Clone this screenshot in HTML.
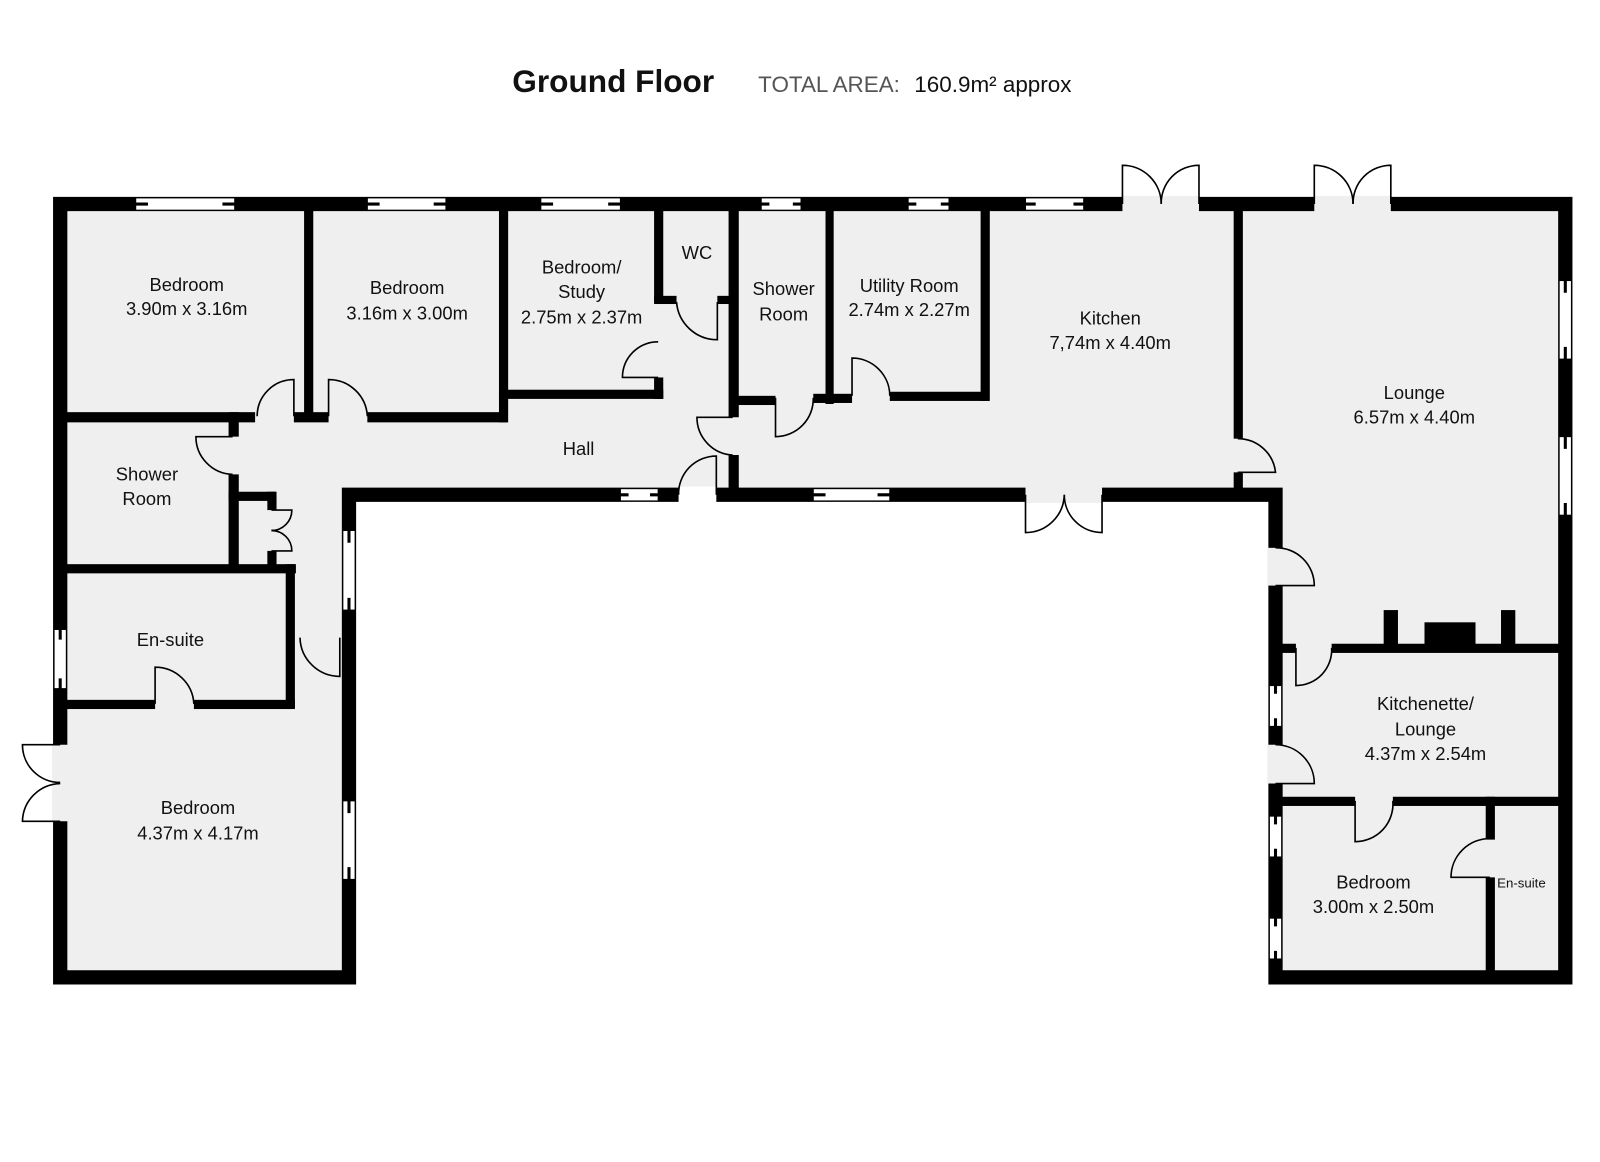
<!DOCTYPE html>
<html><head><meta charset="utf-8"><style>
html,body{margin:0;padding:0;background:#fff}
svg{display:block}
text{font-family:"Liberation Sans",sans-serif;fill:#111}
</style></head><body>
<svg width="1600" height="1162" viewBox="0 0 1568 1139" preserveAspectRatio="none" xmlns="http://www.w3.org/2000/svg">
<text x="502" y="90" style="font-size:31px;font-weight:bold">Ground Floor</text>
<text x="743" y="90" style="font-size:22px;fill:#555">TOTAL AREA:</text>
<text x="896" y="90" style="font-size:22px">160.9m² approx</text>

<polygon points="59,200 1534,200 1534,958 1250,958 1250,485 342,485 342,958 59,958" fill="#efefef" stroke="#000" stroke-width="14" stroke-linejoin="miter"/>

<g fill="#000">
<rect x="298" y="200" width="9" height="212"/>
<rect x="59" y="404" width="191" height="10"/>
<rect x="288" y="404" width="34" height="10"/>
<rect x="360" y="404" width="137" height="10"/>
<rect x="489" y="200" width="9" height="214"/>
<rect x="489" y="382" width="161" height="9"/>
<rect x="641" y="200" width="9" height="96"/>
<rect x="641" y="290" width="22" height="8"/>
<rect x="703" y="290" width="19" height="8"/>
<rect x="641" y="370" width="9" height="21"/>
<rect x="714" y="200" width="10" height="209"/>
<rect x="714" y="446" width="10" height="39"/>
<rect x="718" y="388" width="42" height="9"/>
<rect x="797" y="386" width="38" height="9"/>
<rect x="872" y="384" width="97" height="9"/>
<rect x="809" y="200" width="8" height="196"/>
<rect x="961" y="200" width="9" height="193"/>
<rect x="1209" y="200" width="9" height="230"/>
<rect x="1209" y="463" width="9" height="22"/>
<rect x="1250" y="631" width="20" height="9"/>
<rect x="1305" y="631" width="229" height="9"/>
<rect x="1356" y="598" width="14" height="37"/>
<rect x="1396" y="610" width="50" height="25"/>
<rect x="1471" y="598" width="14" height="37"/>
<rect x="1250" y="781" width="78" height="9"/>
<rect x="1365" y="781" width="169" height="9"/>
<rect x="1456" y="781" width="9" height="42"/>
<rect x="1456" y="860" width="9" height="98"/>
<rect x="224" y="404" width="10" height="24"/>
<rect x="224" y="465" width="10" height="95"/>
<rect x="224" y="482" width="46" height="9"/>
<rect x="262" y="482" width="9" height="18"/>
<rect x="262" y="540" width="9" height="20"/>
<rect x="59" y="553" width="231" height="9"/>
<rect x="280" y="553" width="9" height="141"/>
<rect x="59" y="686" width="93" height="9"/>
<rect x="190" y="686" width="99" height="9"/>
</g>

<!-- door gaps -->
<g fill="#efefef">
<rect x="1100" y="192" width="75" height="16"/>
<rect x="1288" y="192" width="75" height="16"/>
<rect x="665" y="477" width="37" height="16" fill="#fff"/>
<rect x="1005" y="477" width="75" height="16"/>
<rect x="1242" y="537" width="16" height="37"/>
<rect x="1242" y="730" width="16" height="38"/>
<rect x="51" y="730" width="16" height="75"/>
</g>

<!-- windows horizontal -->
<g>
<g fill="#fff" stroke="#000" stroke-width="1">
<rect x="133" y="194" width="97" height="12"/><rect x="360" y="194" width="77" height="12"/>
<rect x="530" y="194" width="78" height="12"/><rect x="746" y="194" width="39" height="12"/>
<rect x="890" y="194" width="40" height="12"/><rect x="1005" y="194" width="57" height="12"/>
<rect x="608" y="479" width="37" height="12"/><rect x="797" y="479" width="75" height="12"/>
<rect x="1528" y="275" width="12" height="77"/><rect x="1528" y="428" width="12" height="77"/>
<rect x="336" y="520" width="12" height="78"/><rect x="336" y="785" width="12" height="77"/>
<rect x="53" y="617" width="12" height="58"/>
<rect x="1244" y="672" width="12" height="40"/><rect x="1244" y="800" width="12" height="40"/><rect x="1244" y="900" width="12" height="40"/>
</g>
<g stroke="#000" stroke-width="3">
<path d="M133,200h12M218,200h12M360,200h12M425,200h12M530,200h12M596,200h12M746,200h8M777,200h8M890,200h8M922,200h8M1005,200h10M1052,200h10M608,485h8M637,485h8M797,485h12M860,485h12"/>
<path d="M1534,275v12M1534,340v12M1534,428v12M1534,493v12M342,520v12M342,586v12M342,785v12M342,850v12M59,617v10M59,665v10M1250,672v8M1250,704v8M1250,800v8M1250,832v8M1250,900v8M1250,932v8"/>
</g>
</g>

<!-- doors -->
<g fill="none" stroke="#000" stroke-width="1.6">
<path d="M288,408 L288,372 A36,36 0 0 0 252,408"/>
<path d="M322,408 L322,372 A38,38 0 0 1 360,408"/>
<path d="M228,428 L192,428 A37,37 0 0 0 228,465"/>
<path d="M645,370 L610,370 A35,35 0 0 1 645,335"/>
<path d="M703,296 L703,333 A40,40 0 0 1 663,296"/>
<path d="M718,409 L683,409 A37,37 0 0 0 718,446"/>
<path d="M702,485 L702,447 A37,37 0 0 0 665,485"/>
<path d="M760,390 L760,428 A37,37 0 0 0 797,390"/>
<path d="M835,388 L835,351 A37,37 0 0 1 872,388"/>
<path d="M1213,463 L1250,463 A37,37 0 0 0 1213,430"/>
<path d="M1100,200 L1100,162 A38,38 0 0 1 1138,200"/>
<path d="M1175,200 L1175,162 A37,37 0 0 0 1138,200"/>
<path d="M1288,200 L1288,162 A38,38 0 0 1 1326,200"/>
<path d="M1363,200 L1363,162 A37,37 0 0 0 1326,200"/>
<path d="M1005,485 L1005,522 A38,38 0 0 0 1043,485"/>
<path d="M1080,485 L1080,522 A37,37 0 0 1 1043,485"/>
<path d="M1250,574 L1288,574 A37,37 0 0 0 1250,537"/>
<path d="M1250,768 L1288,768 A38,38 0 0 0 1250,730"/>
<path d="M1270,635 L1270,672 A35,35 0 0 0 1305,635"/>
<path d="M1328,785 L1328,825 A37,37 0 0 0 1365,785"/>
<path d="M1460,860 L1422,860 A38,38 0 0 1 1460,822"/>
<path d="M152,690 L152,654 A38,38 0 0 1 190,690"/>
<path d="M333,625 L333,663 A39,39 0 0 1 294,625"/>
<path d="M59,730 L22,730 A37,37 0 0 0 59,767"/>
<path d="M59,805 L22,805 A38,38 0 0 1 59,768"/>
<path d="M266,500 L286,500 A20,20 0 0 1 266,520"/>
<path d="M266,540 L286,540 A20,20 0 0 0 266,520"/>
</g>

<g style="font-size:18px" text-anchor="middle">
<text x="183" y="285">Bedroom</text><text x="183" y="309">3.90m x 3.16m</text>
<text x="399" y="288">Bedroom</text><text x="399" y="313">3.16m x 3.00m</text>
<text x="570" y="268">Bedroom/</text><text x="570" y="292">Study</text><text x="570" y="317">2.75m x 2.37m</text>
<text x="683" y="254">WC</text>
<text x="768" y="289">Shower</text><text x="768" y="314">Room</text>
<text x="891" y="286">Utility Room</text><text x="891" y="310">2.74m x 2.27m</text>
<text x="1088" y="318">Kitchen</text><text x="1088" y="342">7,74m x 4.40m</text>
<text x="1386" y="391">Lounge</text><text x="1386" y="415">6.57m x 4.40m</text>
<text x="567" y="446">Hall</text>
<text x="144" y="471">Shower</text><text x="144" y="495">Room</text>
<text x="167" y="633">En-suite</text>
<text x="194" y="798">Bedroom</text><text x="194" y="823">4.37m x 4.17m</text>
<text x="1397" y="696">Kitchenette/</text><text x="1397" y="721">Lounge</text><text x="1397" y="745">4.37m x 2.54m</text>
<text x="1346" y="871">Bedroom</text><text x="1346" y="895">3.00m x 2.50m</text>
<text x="1491" y="870" style="font-size:13px">En-suite</text>
</g>
</svg>
</body></html>
